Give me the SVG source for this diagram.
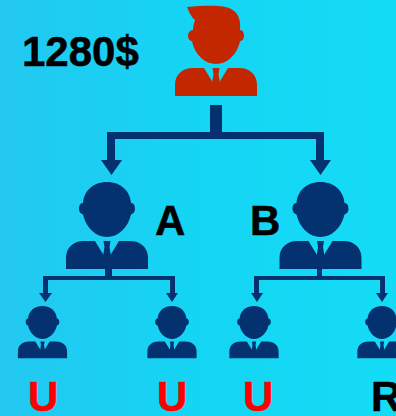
<svg xmlns="http://www.w3.org/2000/svg" width="396" height="416" viewBox="0 0 396 416">
<style>
.t{font-family:"Liberation Sans",Arial,sans-serif;font-weight:700;font-size:42px;fill:#000;stroke:#000;stroke-width:.5}
.r{fill:#fe0000;stroke:#fe0000}
.c{fill:#04316f}
</style>
<defs>
<linearGradient id="bg" x1="0" y1="0" x2="1" y2="0">
<stop offset="0" stop-color="#23c8f0"/><stop offset="0.5" stop-color="#14d5f4"/><stop offset="1" stop-color="#14dcf6"/>
</linearGradient>
<g id="body">
<path d="M-41 87V76C-41 65-33 59-23 59H-12L-3.500 73H3.500L12 59H23C33 59 41 65 41 76V87Z"/>
<path d="M-3.500 59H3.500L2.500 65L4 74H-4L-2.500 65Z"/>
</g>
<g id="person">
<path d="M0 0C14 0 23 9 24 21C27 21 28 24 28 27C28 30 26 32 24 32.500C21 46 11 55 0 55C-11 55-21 46-24 32.500C-26 32-28 30-28 27C-28 24-27 21-24 21C-23 9-14 0 0 0Z"/>
<use href="#body"/>
</g>
</defs>
<rect width="396" height="416" fill="url(#bg)"/>
<g id="person-top" fill="#c32700" transform="translate(216 9)">
<path d="M-29 -2C-18 -3-8 -3.500 2 -3C16 -2.500 26 4 24 21C27 21 28 24 28 27C28 30 26 32 24 32.500C21 46 11 55 0 55C-11 55-21 46-24 32.500C-26 32-28 30-28 27C-28 24-26 21-23 21C-23 17-22 14-21 11C-25 8-27 3-29 -2Z"/>
<use href="#body"/>
</g>
<g id="person-a" fill="#04316f" transform="translate(107 182)"><use href="#person"/></g>
<g id="person-b" fill="#04316f" transform="translate(320.500 182)"><use href="#person"/></g>
<g id="person-a1" fill="#04316f" transform="translate(42.500 306) scale(.6)"><use href="#person"/></g>
<g id="person-a2" fill="#04316f" transform="translate(172 306) scale(.6)"><use href="#person"/></g>
<g id="person-b1" fill="#04316f" transform="translate(254 306) scale(.6)"><use href="#person"/></g>
<g id="person-b2" fill="#04316f" transform="translate(382 306) scale(.6)"><use href="#person"/></g>
<g id="connectors" class="c">
<path d="M210 105H222V132H324V160H331L320.500 175L310 160H316V139H115V160H122L111.500 175L101 160H107V132H210Z"/>
<path d="M105 255H112V276H175V293H178L172 302L166 293H170V280H48V293H52L45.500 302L39 293H43V276H105Z"/>
<path d="M317 255H322V276H385V293H388L382 302L376 293H380V280H259V293H263L257 302L251 293H254V276H317Z"/>
</g>
<text class="t" x="22" y="66">1280$</text>
<text class="t" x="155" y="235">A</text>
<text class="t" x="250" y="235">B</text>
<text class="t r" x="28" y="411">U</text>
<text class="t r" x="157" y="411">U</text>
<text class="t r" x="243" y="411">U</text>
<text class="t" x="371" y="411">R</text>
</svg>
